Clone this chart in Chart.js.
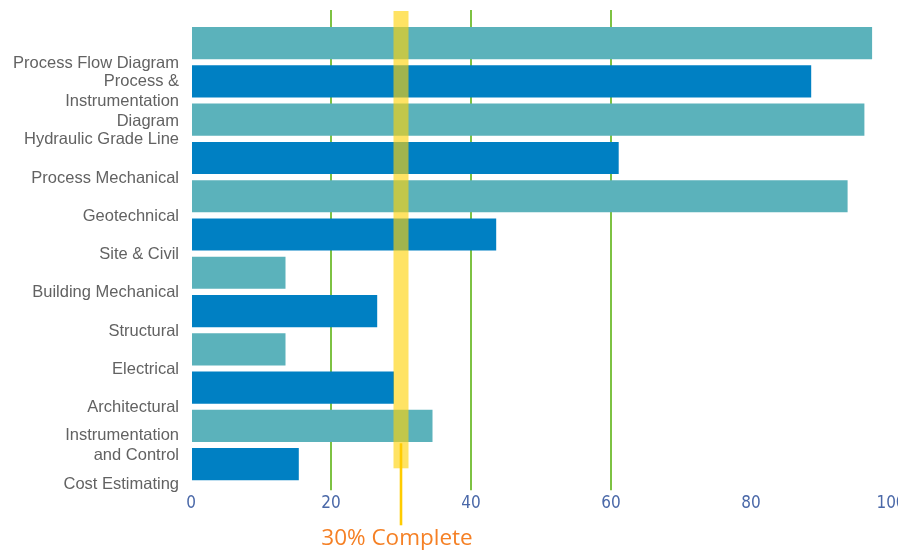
<!DOCTYPE html>
<html>
<head>
<meta charset="utf-8">
<script src="https://cdn.jsdelivr.net/npm/chart.js@4/dist/chart.umd.min.js"></script>
<style>
  html, body { margin: 0; padding: 0; background: #ffffff; }
  #wrap { width: 898px; height: 552px; position: relative; }
</style>
</head>
<body>
<div id="wrap"><canvas id="c" width="898" height="552"></canvas></div>
<script>
// ---- data ----
const categories = [
  'Process Flow Diagram',
  ['Process &', 'Instrumentation', 'Diagram'],
  'Hydraulic Grade Line',
  'Process Mechanical',
  'Geotechnical',
  'Site & Civil',
  'Building Mechanical',
  'Structural',
  'Electrical',
  'Architectural',
  ['Instrumentation', 'and Control'],
  'Cost Estimating'
];
const percentComplete = [97.3, 88.6, 96.2, 61.1, 93.8, 43.6, 13.5, 26.6, 13.5, 29.0, 34.5, 15.4];
const axisMin = 0;
const axisMax = 100;
const axisStep = 20;
const gridValues = [20, 40, 60];
const markerValue = 30;
const markerLabel = '30% Complete';

// ---- styles ----
const TEAL = '#5BB2BB';
const BLUE = '#0080C3';
const GREEN = '#7DC243';

const gridColor = (c) => (c.tick && gridValues.includes(c.tick.value)) ? GREEN : 'rgba(0,0,0,0)';

const markerPlugin = {
  id: 'marker',
  afterDatasetsDraw(chart) {
    const { ctx, chartArea, scales } = chart;
    const px = scales.x.getPixelForValue(markerValue);
    ctx.save();
    // translucent band
    ctx.fillStyle = 'rgba(255, 210, 10, 0.63)';
    const top = chartArea.top - 13;
    const bottom = chartArea.bottom - 15;
    ctx.fillRect(px - 7.5, top, 15, bottom - top);
    // thin pointer line
    ctx.strokeStyle = '#FFCC00';
    ctx.lineWidth = 2.6;
    ctx.beginPath();
    ctx.moveTo(px, chartArea.bottom - 40);
    ctx.lineTo(px, chartArea.bottom + 42);
    ctx.stroke();
    // label
    ctx.fillStyle = '#F58025';
    ctx.font = '22.5px "Open Sans", "Noto Sans", sans-serif';
    ctx.textAlign = 'center';
    ctx.textBaseline = 'alphabetic';
    ctx.fillText(markerLabel, px - 4, chartArea.bottom + 62);
    ctx.restore();
  }
};

new Chart(document.getElementById('c'), {
  type: 'bar',
  data: {
    labels: categories,
    datasets: [{
      data: percentComplete,
      backgroundColor: (c) => (c.dataIndex % 2 === 0 ? TEAL : BLUE),
      borderWidth: 0,
      categoryPercentage: 1,
      barPercentage: 0.84
    }]
  },
  options: {
    indexAxis: 'y',
    responsive: false,
    animation: false,
    devicePixelRatio: 1,
    layout: { padding: { top: 10, right: 7, bottom: 38.7, left: 0 } },
    plugins: {
      legend: { display: false },
      tooltip: { enabled: false },
      title: { display: false }
    },
    scales: {
      x: {
        type: 'linear',
        position: 'bottom',
        min: axisMin,
        max: axisMax,
        afterFit: (s) => { s.paddingRight = 0; s.height = 30; },
        ticks: {
          stepSize: axisStep,
          color: '#4A68A8',
          padding: 3,
          font: { family: '"DejaVu Sans Condensed", "Liberation Sans", sans-serif', size: 17 }
        },
        grid: {
          color: gridColor,
          lineWidth: 2,
          drawTicks: true,
          tickLength: 7
        },
        border: { display: false }
      },
      x2: {
        type: 'linear',
        position: 'top',
        min: axisMin,
        max: axisMax,
        afterFit: (s) => { s.paddingRight = 0; s.paddingLeft = 0; s.height = 14; },
        ticks: { stepSize: axisStep, display: false },
        grid: {
          color: gridColor,
          lineWidth: 2,
          drawOnChartArea: false,
          drawTicks: true,
          tickLength: 14
        },
        border: { display: false }
      },
      y: {
        type: 'category',
        offset: true,
        afterFit: (s) => { s.width = 191; s.paddingTop = 0; s.paddingBottom = 0; },
        ticks: {
          autoSkip: false,
          color: '#626262',
          padding: 12,
          labelOffset: 20,
          font: { family: '"Liberation Sans", Arial, sans-serif', size: 16.5, lineHeight: 1.22 }
        },
        grid: { display: false, drawTicks: false },
        border: { display: false }
      }
    }
  },
  plugins: [markerPlugin]
});
</script>
</body>
</html>
